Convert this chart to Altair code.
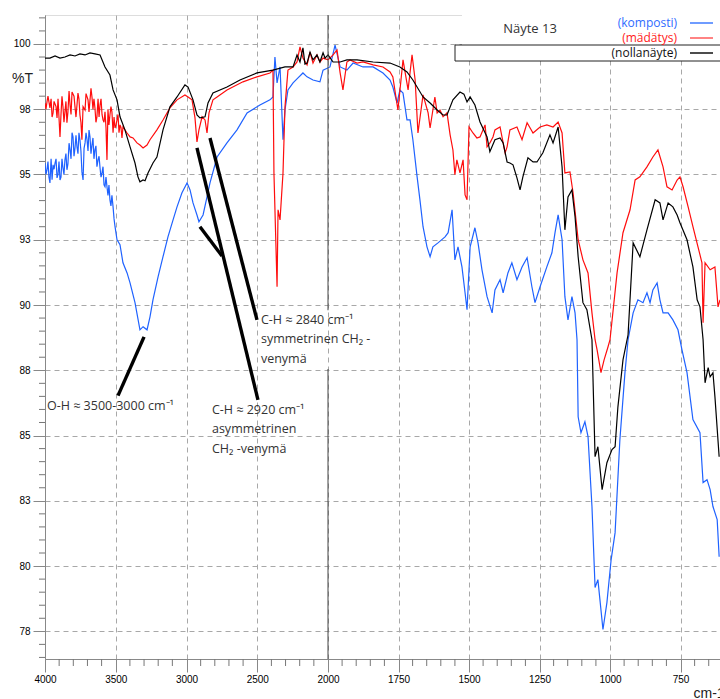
import altair as alt
import pandas as pd

# ---------------- data (wavenumber cm-1, %T) ----------------
nolla_wn = [4000, 3965, 3929, 3894, 3859, 3823, 3788, 3753, 3717, 3682, 3647, 3611, 3576, 3541, 3519, 3491,
            3470, 3435, 3399, 3364, 3343, 3329, 3307, 3293, 3272, 3237, 3209, 3166, 3117, 3067, 3011, 2989,
            2954, 2926, 2905, 2869, 2848, 2813, 2714, 2622, 2502, 2389, 2304, 2247, 2219, 2198, 2177, 2163,
            2148, 2127, 2106, 2078, 2057, 2035, 2021, 2000, 1982, 1957, 1933, 1897, 1840, 1780, 1745, 1720,
            1699, 1663, 1638, 1613, 1592, 1578, 1557, 1532, 1518, 1507, 1496, 1479, 1461, 1436, 1426, 1408,
            1390, 1379, 1365, 1355, 1344, 1330, 1319, 1309, 1291, 1273, 1259, 1238, 1213, 1202, 1184, 1170,
            1160, 1149, 1135, 1124, 1113, 1096, 1082, 1064, 1053, 1043, 1028, 1011, 993, 982, 972, 954,
            936, 918, 894, 869, 840, 823, 812, 794, 777, 762, 752, 727, 706, 691, 681, 670, 663, 652, 645,
            635, 628, 613]
nolla_t = [99.46, 99.46, 99.54, 99.46, 99.50, 99.58, 99.54, 99.62, 99.58, 99.66, 99.62, 99.58, 99.12, 98.81,
           98.24, 97.86, 97.21, 96.71, 96.06, 95.44, 94.91, 94.72, 94.79, 94.76, 95.06, 95.44, 95.67, 96.71,
           97.59, 97.97, 98.43, 98.35, 97.86, 97.28, 97.17, 97.21, 97.74, 98.12, 98.35, 98.62, 98.89, 99.00,
           99.12, 99.12, 99.58, 99.31, 99.85, 99.23, 99.27, 99.69, 99.39, 99.58, 99.31, 99.66, 99.46, 99.58,
           99.31, 99.31, 99.39, 99.39, 99.31, 99.27, 99.12, 98.93, 98.62, 97.97, 97.74, 97.47, 97.28, 97.28,
           97.86, 98.16, 98.08, 97.78, 97.97, 97.66, 97.01, 96.44, 95.87, 96.33, 96.40, 96.21, 95.48, 95.44,
           95.37, 94.87, 94.41, 94.91, 95.64, 95.48, 95.48, 95.83, 96.52, 96.21, 96.82, 95.29, 92.88, 94.14,
           94.41, 93.38, 91.85, 90.09, 89.82, 88.67, 84.19, 84.57, 82.93, 83.96, 84.46, 84.57, 86.10, 87.90,
           88.86, 92.38, 91.85, 92.88, 94.03, 93.91, 93.26, 93.91, 93.76, 93.45, 93.15, 92.50, 91.46, 90.20,
           89.93, 88.67, 87.02, 87.60, 87.25, 87.41, 86.49, 84.19]

madatys_wn = [4000, 3986, 3965, 3943, 3915, 3894, 3873, 3845, 3823, 3809, 3788, 3767, 3753, 3739, 3717, 3696,
              3668, 3647, 3633, 3611, 3590, 3576, 3562, 3541, 3527, 3505, 3491, 3470, 3449, 3420, 3399, 3378,
              3350, 3329, 3307, 3279, 3258, 3209, 3166, 3117, 3067, 3011, 2989, 2961, 2940, 2926, 2912, 2890,
              2869, 2855, 2841, 2813, 2784, 2714, 2601, 2502, 2410, 2389, 2382, 2360, 2353, 2339, 2318, 2304,
              2283, 2247, 2219, 2198, 2177, 2148, 2127, 2106, 2078, 2057, 2035, 2000, 1982, 1968, 1957, 1947,
              1933, 1922, 1897, 1876, 1840, 1805, 1780, 1770, 1752, 1734, 1716, 1702, 1691, 1681, 1663, 1645,
              1638, 1621, 1613, 1603, 1592, 1578, 1567, 1557, 1550, 1543, 1532, 1521, 1514, 1507, 1500, 1486,
              1472, 1461, 1443, 1436, 1426, 1415, 1408, 1390, 1372, 1365, 1355, 1330, 1312, 1294, 1273, 1248,
              1224, 1202, 1184, 1170, 1160, 1142, 1131, 1113, 1096, 1078, 1064, 1053, 1046, 1032, 1021, 1007,
              1000, 975, 954, 929, 911, 894, 869, 848, 830, 812, 798, 780, 762, 752, 741, 723, 706, 688, 674,
              670, 663, 645, 628, 617, 610]
madatys_t = [97.74, 97.78, 97.55, 97.36, 97.17, 96.44, 97.59, 96.98, 97.66, 98.16, 97.59, 98.12, 97.28, 96.33,
             97.47, 97.86, 97.97, 97.55, 97.21, 97.66, 97.09, 97.40, 95.56, 97.28, 97.40, 96.78, 97.09, 96.90,
             96.82, 96.59, 96.44, 96.40, 96.21, 96.13, 96.02, 96.13, 96.33, 96.71, 97.09, 97.55, 97.86, 98.05,
             97.97, 97.86, 97.17, 96.25, 96.71, 97.21, 97.09, 96.59, 97.36, 97.86, 97.97, 98.24, 98.55, 98.74,
             98.89, 99.00, 95.06, 90.70, 93.65, 93.26, 95.06, 97.59, 99.00, 99.12, 99.31, 99.89, 99.46, 99.20,
             99.69, 99.27, 99.58, 99.31, 99.46, 99.39, 99.58, 99.77, 98.89, 98.24, 99.31, 99.39, 99.27, 99.31,
             99.20, 99.12, 98.93, 98.74, 97.47, 99.39, 98.24, 99.58, 98.62, 96.59, 98.05, 97.36, 96.78, 97.97,
             97.36, 97.47, 97.21, 97.36, 96.52, 95.94, 94.99, 95.56, 95.06, 95.56, 94.22, 94.03, 96.82, 96.59,
             96.40, 96.44, 96.90, 96.06, 96.21, 96.44, 96.71, 96.82, 95.83, 96.06, 96.71, 96.82, 96.33, 96.98,
             96.59, 96.82, 96.90, 96.82, 97.01, 96.59, 95.06, 95.10, 94.30, 92.50, 91.73, 91.23, 89.70, 88.67,
             88.29, 87.41, 87.90, 88.40, 88.67, 91.23, 92.77, 93.65, 94.79, 94.91, 95.29, 95.67, 95.94, 95.29,
             94.53, 94.41, 94.79, 94.91, 94.53, 93.76, 93.00, 92.23, 91.62, 89.32, 91.62, 91.35, 91.46, 89.93,
             90.20]
# extra readings of the dense noise in the 4000-3450 region
madatys_noise_wn = [3993, 3979, 3957, 3950, 3936, 3922, 3908, 3887, 3880, 3866, 3852, 3838, 3830, 3816, 3795,
                    3781, 3760, 3746, 3731, 3710, 3689, 3675, 3661, 3654, 3640, 3625, 3618, 3604, 3597, 3583,
                    3569, 3555, 3548, 3534, 3519, 3512, 3498, 3484, 3477, 3463, 3456]
madatys_noise_t = [97.5, 98.0, 97.9, 97.2, 97.8, 97.6, 97.9, 97.3, 98.0, 97.0, 97.8, 97.4, 98.2, 97.3, 98.0,
                   97.2, 97.9, 97.0, 97.6, 98.1, 97.4, 98.3, 97.5, 97.9, 97.0, 97.9, 97.2, 97.9, 97.3, 97.0,
                   96.8, 97.5, 96.9, 97.6, 96.6, 97.2, 96.9, 97.3, 96.6, 96.8, 96.4]

komposti_wn = [4000, 3986, 3965, 3943, 3929, 3915, 3894, 3873, 3859, 3845, 3823, 3802, 3788, 3774, 3753, 3731,
               3717, 3703, 3682, 3668, 3647, 3625, 3611, 3597, 3576, 3562, 3541, 3519, 3491, 3470, 3449, 3420,
               3399, 3364, 3329, 3307, 3279, 3258, 3237, 3201, 3166, 3131, 3095, 3067, 3032, 2996, 2975, 2954,
               2926, 2912, 2883, 2855, 2834, 2784, 2714, 2643, 2572, 2481, 2410, 2389, 2375, 2360, 2339, 2318,
               2304, 2283, 2247, 2212, 2177, 2148, 2106, 2057, 2035, 1993, 1975, 1957, 1933, 1911, 1876, 1840,
               1805, 1780, 1770, 1755, 1745, 1734, 1720, 1709, 1699, 1684, 1674, 1663, 1649, 1638, 1628, 1610,
               1585, 1574, 1560, 1550, 1539, 1525, 1514, 1507, 1496, 1479, 1468, 1454, 1436, 1418, 1408, 1390,
               1379, 1362, 1348, 1330, 1312, 1294, 1277, 1266, 1248, 1224, 1206, 1195, 1184, 1170, 1160, 1149,
               1135, 1124, 1117, 1113, 1103, 1089, 1078, 1064, 1053, 1043, 1025, 1011, 996, 982, 965, 947, 936,
               918, 901, 883, 869, 858, 848, 833, 823, 812, 794, 777, 759, 745, 727, 706, 681, 670, 656, 645,
               635, 620, 613]
komposti_t = [95.44, 95.18, 94.68, 95.37, 95.44, 94.87, 94.79, 95.25, 95.56, 95.18, 95.94, 96.44, 96.02, 96.06,
              96.33, 94.79, 96.21, 96.33, 96.44, 96.13, 95.94, 95.56, 95.25, 95.06, 94.53, 94.53, 94.03, 93.76,
              92.50, 92.31, 91.62, 91.23, 90.85, 90.09, 89.05, 89.17, 89.05, 89.55, 90.20, 91.08, 91.85, 92.61,
              93.26, 93.76, 94.30, 94.68, 94.41, 93.91, 93.45, 93.19, 93.45, 94.14, 94.68, 95.67, 96.21, 96.71,
              97.36, 97.66, 97.86, 97.97, 99.50, 98.51, 99.12, 96.33, 97.47, 98.24, 98.51, 98.70, 98.89, 98.74,
              98.62, 98.55, 99.00, 99.12, 99.96, 99.12, 99.00, 99.27, 99.12, 99.12, 98.89, 98.62, 98.35, 97.74,
              98.24, 98.12, 97.09, 97.09, 96.33, 94.91, 94.03, 93.00, 92.23, 91.85, 92.23, 92.38, 92.61, 92.77,
              93.65, 91.73, 92.23, 91.46, 90.47, 89.82, 92.23, 92.96, 92.38, 91.35, 90.32, 89.70, 90.58, 90.97,
              90.47, 91.23, 91.62, 90.97, 91.46, 91.81, 90.70, 90.09, 90.70, 91.46, 92.00, 92.77, 93.45, 92.50,
              90.32, 89.43, 90.32, 89.70, 88.67, 85.72, 85.11, 85.53, 84.96, 82.28, 79.18, 79.48, 77.57, 78.60,
              80.25, 81.28, 84.84, 87.41, 88.67, 89.70, 90.20, 90.09, 90.47, 90.09, 90.58, 90.85, 90.20, 89.70,
              89.70, 89.43, 89.05, 88.29, 87.41, 85.61, 85.11, 83.20, 83.31, 82.93, 82.28, 81.78, 80.36]
komposti_noise_wn = [3993, 3979, 3972, 3957, 3950, 3936, 3922, 3908, 3901, 3887, 3880, 3866, 3852, 3838, 3830,
                     3816, 3809, 3795, 3781, 3767, 3760, 3746, 3739, 3724, 3710, 3696, 3689, 3675, 3661, 3654,
                     3640, 3633, 3618, 3604, 3590, 3583, 3569, 3555, 3548, 3534, 3527, 3512, 3505]
komposti_noise_t = [95.0, 95.5, 94.9, 95.6, 94.8, 95.2, 95.6, 95.0, 95.5, 94.9, 95.6, 95.0, 95.8, 95.4, 96.2,
                    95.6, 96.6, 95.7, 96.5, 95.8, 96.6, 95.9, 95.1, 96.0, 96.6, 95.9, 96.7, 95.8, 96.4, 95.6,
                    96.1, 95.3, 95.7, 94.9, 95.3, 94.6, 94.9, 94.2, 94.6, 93.8, 94.2, 93.3, 93.0]

series_names = ["(komposti)", "(mädätys)", "(nollanäyte)"]
series_colors = ["#1f62ff", "#ff0d0d", "#000000"]
legend_colors = ["#3f7bff", "#ff5a5a", "#111111"]
text_colors = ["#2f6bff", "#ff1a1a", "#111111"]

x_ticks = [4000, 3500, 3000, 2500, 2000, 1750, 1500, 1250, 1000, 750]
y_ticks = [77.5, 80, 82.5, 85, 87.5, 90, 92.5, 95, 97.5, 100]
x_minor = [3900, 3800, 3700, 3600, 3400, 3300, 3200, 3100, 2900, 2800, 2700, 2600, 2400, 2300, 2200, 2100,
           1950, 1900, 1850, 1800, 1700, 1650, 1600, 1550, 1450, 1400, 1350, 1300, 1200, 1150, 1100, 1050,
           950, 900, 850, 800, 700, 650]
y_minor = [v / 2 for v in range(153, 203) if (v / 2) % 2.5 != 0]

# annotation pointer lines (wavenumber, %T) start -> end
ann_wn = [3300, 2926, 2834, 2905]
ann_t = [88.78, 96.02, 96.40, 93.00]
ann_wn2 = [3484, 2495, 2502, 2749]
ann_t2 = [86.53, 86.37, 89.43, 91.88]

ann_text = ["O-H ≈ 3500-3000 cm⁻¹", "C-H ≈ 2840 cm⁻¹", "symmetrinen CH₂ -", "venymä",
            "C-H ≈ 2920 cm⁻¹", "asymmetrinen", "CH₂ -venymä"]
ann_text_wn = [3986, 2474, 2474, 2474, 2820, 2820, 2820]
ann_text_t = [86.14, 89.43, 88.71, 87.94, 85.99, 85.26, 84.50]

# ---------------- build tables ----------------
rows = []
for name, wns, ts in zip(series_names,
                         [komposti_wn + komposti_noise_wn, madatys_wn + madatys_noise_wn, nolla_wn],
                         [komposti_t + komposti_noise_t, madatys_t + madatys_noise_t, nolla_t]):
    for w, t in zip(wns, ts):
        rows.append({"wn": w, "T": t, "series": name})
df = pd.DataFrame(rows).sort_values(["series", "wn"], ascending=[True, False]).reset_index(drop=True)

W, H = 675, 644
xscale = alt.Scale(domain=[4000, 2000, 610], range=[0, 283, W], nice=False, zero=False)
yscale = alt.Scale(domain=[76.44, 101.11], nice=False, zero=False)

x_axis = alt.Axis(values=x_ticks, format="d", title="cm-1", titleX=648, titleY=27, titleAlign="left",
                  titleBaseline="top", titleFontWeight="normal", titleFontSize=14, titleColor="#222",
                  tickSize=13, labelPadding=2, labelOverlap=False, labelFlush=False,
                  gridDash=[5, 4], gridColor="#a8a8a8")
y_axis = alt.Axis(values=y_ticks, labelExpr="round(datum.value)", title="%T", titleAngle=0,
                  titleX=-23, titleY=63, titleAlign="center", titleBaseline="middle",
                  titleFontWeight="normal", titleFontSize=14, titleColor="#222",
                  tickSize=12, labelPadding=3, labelOverlap=False, gridDash=[5, 4], gridColor="#a8a8a8")

X = alt.X("wn:Q", scale=xscale, axis=x_axis)
Y = alt.Y("T:Q", scale=yscale, axis=y_axis)

color = alt.Color("series:N", scale=alt.Scale(domain=series_names, range=series_colors), legend=None)

layers = []
for name in series_names:
    layers.append(
        alt.Chart(df[df.series == name]).mark_line(strokeWidth=1.2, clip=True).encode(
            x=X, y=Y, color=color, order=alt.Order("wn:Q", sort="descending"))
    )

# solid scale-break line at 2000 (interrupted behind the 2840 label)
brk = pd.DataFrame({"wn": [2000, 2000], "T": [101.11, 87.55], "T2": [89.8, 76.44]})
brk_layer = alt.Chart(brk).mark_rule(color="#444", strokeWidth=1).encode(x=X, y=Y, y2="T2:Q")

# minor ticks
ym = pd.DataFrame({"T": y_minor})
ym_layer = alt.Chart(ym).mark_rule(color="#777", strokeWidth=1).encode(
    y=Y, x=alt.value(-6), x2=alt.value(0))
xm = pd.DataFrame({"wn": x_minor})
xm_layer = alt.Chart(xm).mark_rule(color="#777", strokeWidth=1).encode(
    x=X, y=alt.value(H), y2=alt.value(H + 7))

# annotation pointers
ann = pd.DataFrame({"wn": ann_wn, "T": ann_t, "wn2": ann_wn2, "T2": ann_t2})
ann_layer = alt.Chart(ann).mark_rule(color="#000", strokeWidth=3.4, strokeCap="butt").encode(
    x=X, y=Y, x2="wn2:Q", y2="T2:Q")
annt = pd.DataFrame({"wn": ann_text_wn, "T": ann_text_t, "txt": ann_text})
annt_layer = alt.Chart(annt).mark_text(align="left", baseline="middle", font="Open Sans", fontSize=12.5,
                                       color="#333").encode(x=X, y=Y, text="txt:N")

# legend area (drawn decoration)
white_layer = alt.Chart(pd.DataFrame({"a": [0]})).mark_rect(color="white").encode(
    x=alt.value(417), x2=alt.value(W + 5), y=alt.value(-15), y2=alt.value(30))
box_layer = alt.Chart(pd.DataFrame({"a": [0]})).mark_rect(fill="white", stroke="#222", strokeWidth=1).encode(
    x=alt.value(410), x2=alt.value(W + 5), y=alt.value(30), y2=alt.value(46))
leg = pd.DataFrame({"label": series_names, "ypix": [8, 23, 38], "tcol": text_colors, "lcol": legend_colors})
leg_text = alt.Chart(leg).mark_text(align="right", baseline="middle", font="Open Sans", fontSize=12).encode(
    x=alt.value(632), y=alt.Y("ypix:Q", scale=None), text="label:N", color=alt.Color("tcol:N", scale=None))
leg_line = alt.Chart(leg).mark_rule(strokeWidth=1.5).encode(
    x=alt.value(645), x2=alt.value(668), y=alt.Y("ypix:Q", scale=None), color=alt.Color("lcol:N", scale=None))
title_layer = alt.Chart(pd.DataFrame({"t": ["Näyte 13"]})).mark_text(
    align="center", baseline="middle", font="Open Sans", fontSize=13, color="#333").encode(
    x=alt.value(485), y=alt.value(14), text="t:N")

chart = alt.layer(
    *layers, brk_layer, ym_layer, xm_layer, ann_layer, annt_layer,
    white_layer, box_layer, leg_text, leg_line, title_layer
).properties(
    width=W, height=H,
    autosize=alt.AutoSizeParams(type="none"),
    padding={"left": 45, "top": 15, "right": 0, "bottom": 40},
).configure_view(stroke="#888", strokeWidth=1).configure_axis(
    labelFont="Liberation Sans", labelFontSize=14, labelColor="#222",
    titleFont="Liberation Sans", domainColor="#777", tickColor="#777"
).configure(background="white")

chart.save("out.html", embed_options={"renderer": "svg", "actions": False})
